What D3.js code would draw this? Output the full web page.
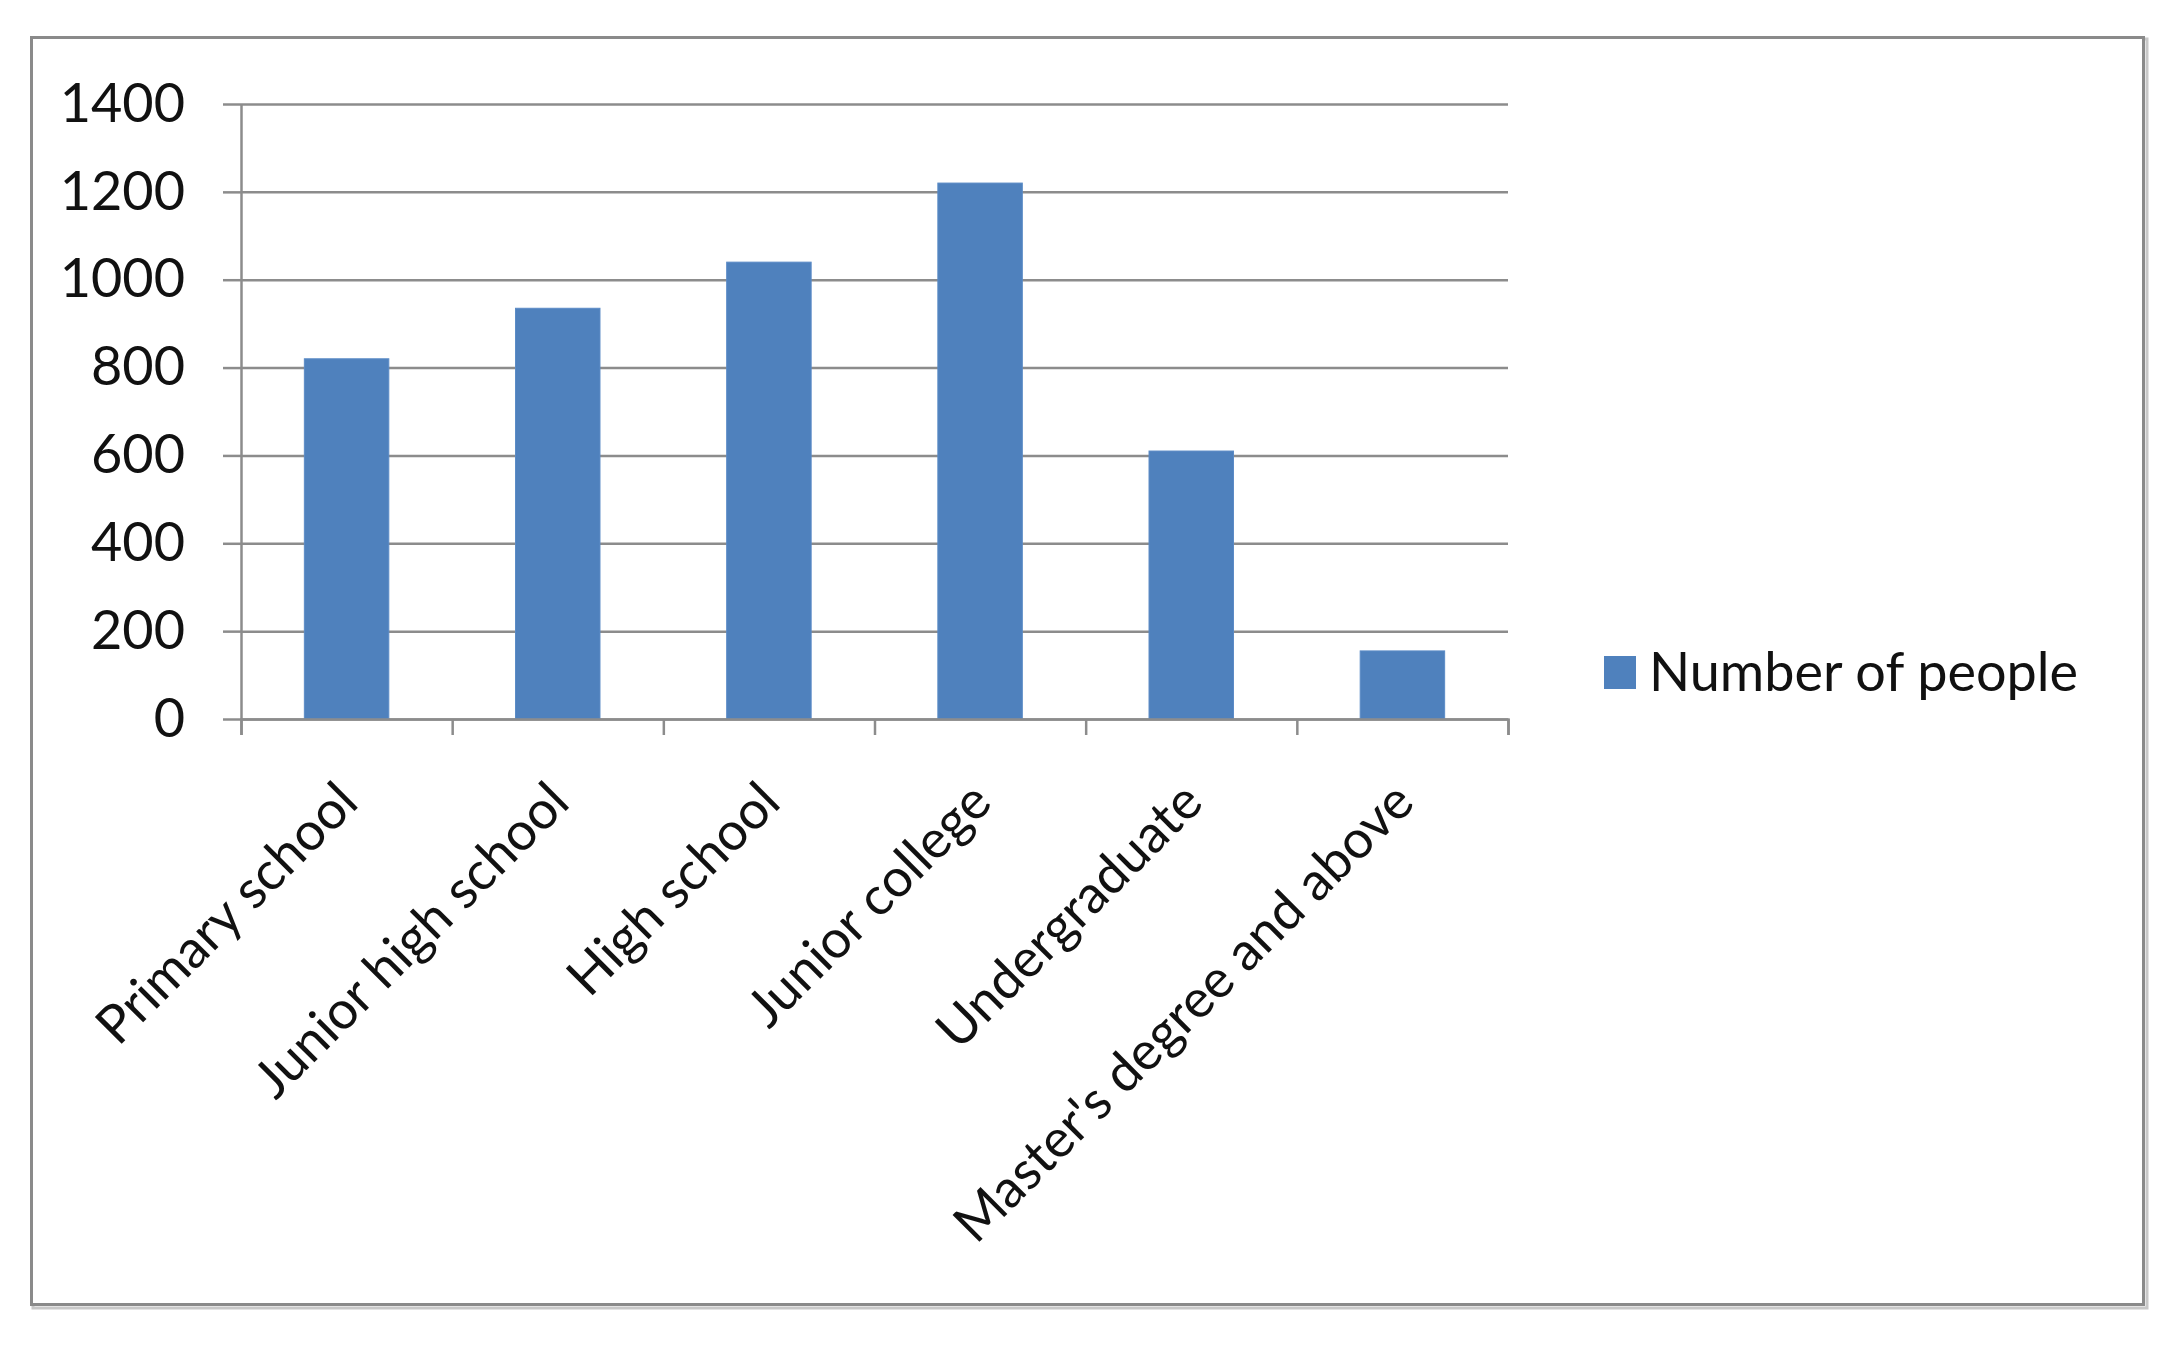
<!DOCTYPE html>
<html>
<head>
<meta charset="utf-8">
<script src="https://cdn.jsdelivr.net/npm/d3@7"></script>
<style>
  html, body { margin: 0; padding: 0; background: #fff; }
  svg { display: block; }
  text { font-family: Lato, "Open Sans", sans-serif; fill: #111; }
</style>
</head>
<body>
<svg id="chart" width="2180" height="1349"></svg>
<script>
const categories = [
  "Primary school",
  "Junior high school",
  "High school",
  "Junior college",
  "Undergraduate",
  "Master's degree and above",
];
const people = [820, 935, 1040, 1220, 610, 155];
const yTicks = [0, 200, 400, 600, 800, 1000, 1200, 1400];
const seriesName = "Number of people";

const svg = d3.select("#chart");
const margin = { left: 241, top: 104, right: 1508, bottom: 719 };
const w = margin.right - margin.left;
const h = margin.bottom - margin.top;

// outer frame
svg.append("rect")
  .attr("x", 33).attr("y", 39)
  .attr("width", 2114).attr("height", 1269)
  .attr("fill", "none").attr("stroke", "#c8c8c8").attr("stroke-width", 3);
svg.append("rect")
  .attr("x", 31.5).attr("y", 37.5)
  .attr("width", 2112).attr("height", 1267)
  .attr("fill", "#fff").attr("stroke", "#8a8a8a").attr("stroke-width", 3);

const g = svg.append("g").attr("transform", `translate(${margin.left},${margin.top})`);

const x = d3.scaleBand().domain(categories).range([0, w]).paddingInner(0.6).paddingOuter(0.3);
const y = d3.scaleLinear().domain([0, 1400]).range([h, 0]);

// gridlines
const grid = g.append("g")
  .call(d3.axisLeft(y).tickValues(yTicks).tickSize(-w).tickFormat(""));
grid.select(".domain").remove();
grid.selectAll("line").attr("stroke", "#8c8c8c").attr("stroke-width", 2.5);

// left axis with outward ticks and labels
const yAxis = g.append("g")
  .call(d3.axisLeft(y).tickValues(yTicks).tickFormat(d3.format("d"))
    .tickSizeInner(18).tickSizeOuter(0).tickPadding(38));
yAxis.select(".domain").attr("stroke", "#8c8c8c").attr("stroke-width", 2.5);
yAxis.selectAll("line").attr("stroke", "#8c8c8c").attr("stroke-width", 2.5);
yAxis.selectAll("text")
  .attr("font-size", 54)
  .attr("font-family", "Lato, sans-serif")
  .attr("fill", "#111");

// bars
g.append("g").selectAll("rect")
  .data(people)
  .join("rect")
  .attr("x", (d, i) => x(categories[i]))
  .attr("y", (d) => y(d))
  .attr("width", x.bandwidth())
  .attr("height", (d) => h - y(d))
  .attr("fill", "#4f81bd")
  .attr("stroke", "#5b8bc6")
  .attr("stroke-width", 1);

// bottom axis with ticks at category boundaries
const edge = d3.scaleLinear().domain([0, categories.length]).range([0, w]);
const xAxis = g.append("g")
  .attr("transform", `translate(0,${h})`)
  .call(d3.axisBottom(edge).tickValues(d3.range(categories.length + 1)).tickSize(16).tickFormat(""));
xAxis.select(".domain").attr("stroke", "#8c8c8c").attr("stroke-width", 2.5);
xAxis.selectAll("line").attr("stroke", "#8c8c8c").attr("stroke-width", 2.5);

// rotated category labels
g.append("g").selectAll("text")
  .data(categories)
  .join("text")
  .attr("transform", (d) => `translate(${x(d) + x.bandwidth() / 2 + 14},${h + 86}) rotate(-45)`)
  .attr("text-anchor", "end")
  .attr("font-size", 53)
  .text((d) => d);

// legend
const legend = svg.append("g").attr("transform", "translate(1604,656)");
legend.append("rect")
  .attr("width", 32).attr("height", 33)
  .attr("fill", "#4f81bd");
legend.append("text")
  .attr("x", 45).attr("y", 35)
  .attr("font-size", 54)
  .text(seriesName);
</script>
</body>
</html>
